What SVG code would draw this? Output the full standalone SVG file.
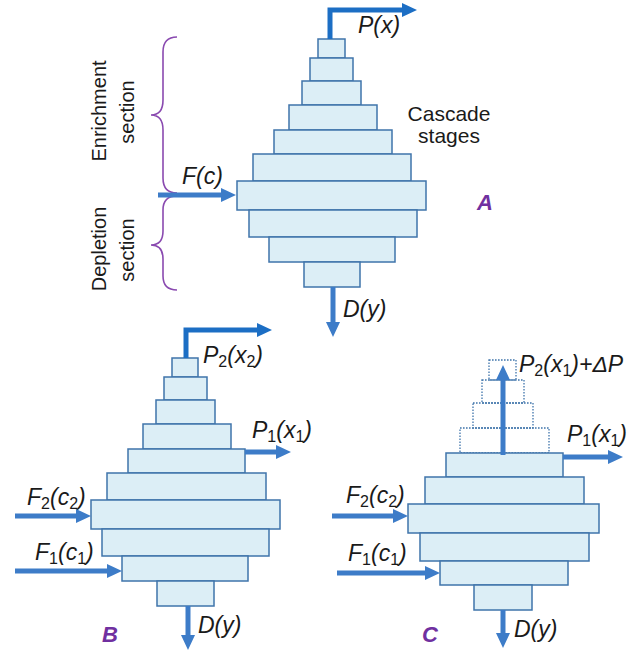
<svg xmlns="http://www.w3.org/2000/svg" width="633" height="655" viewBox="0 0 633 655">
<style>
.st{fill:#dceef6;stroke:#3f74ab;stroke-width:1.5}
.dt{fill:none;stroke:#3f74ab;stroke-width:1.3;stroke-dasharray:1.6 1.4}
.ar{fill:none;stroke:#3d7cc8;stroke-width:5;stroke-linejoin:miter}
.ard{fill:none;stroke:#1c6ec4;stroke-width:5;stroke-linejoin:miter}
.br{fill:none;stroke:#8a4ab0;stroke-width:1.6}
.lb{font-family:"Liberation Sans",Arial,sans-serif;font-size:23px;font-style:italic;fill:#1a1a1a}
.sb{font-size:16px;font-style:normal}
.tx{font-family:"Liberation Sans",Arial,sans-serif;font-size:21px;fill:#1a1a1a}
.vt{font-family:"Liberation Sans",Arial,sans-serif;font-size:20px;fill:#1a1a1a;text-anchor:middle}
.let{font-family:"Liberation Sans",Arial,sans-serif;font-size:22px;font-style:italic;font-weight:bold;fill:#7030a0}
</style>
<defs>
<marker id="ah" viewBox="0 0 15 14" refX="5" refY="7" markerWidth="15" markerHeight="14" markerUnits="userSpaceOnUse" orient="auto"><path d="M0,0 L15,7 L0,14 z" fill="#3d7cc8"/></marker>
<marker id="ahd" viewBox="0 0 15 14" refX="5" refY="7" markerWidth="15" markerHeight="14" markerUnits="userSpaceOnUse" orient="auto"><path d="M0,0 L15,7 L0,14 z" fill="#1c6ec4"/></marker>
</defs>

<g id="cascadeA">
<rect class="st" x="318" y="39" width="27" height="19"/>
<rect class="st" x="310" y="58" width="43" height="23"/>
<rect class="st" x="302" y="81" width="59" height="24"/>
<rect class="st" x="289" y="105" width="88" height="25"/>
<rect class="st" x="274" y="130" width="118" height="24"/>
<rect class="st" x="253" y="154" width="158" height="27"/>
<rect class="st" x="237" y="181" width="189" height="29"/>
<rect class="st" x="249" y="210" width="168" height="27"/>
<rect class="st" x="269" y="237" width="126" height="25"/>
<rect class="st" x="304" y="262" width="56" height="25"/>
</g>
<g id="bracesA">
<path class="br" d="M177,37 Q163,37 163,52 L163,100 Q163,115 151,115 Q163,115 163,130 L163,178 Q163,193 177,193"/>
<path class="br" d="M177,196 Q163,196 163,210 L163,231 Q163,245 151,245 Q163,245 163,259 L163,276 Q163,290 177,290"/>
</g>
<g id="labelsA">
<text class="lb" x="358" y="33">P(x)</text>
<text class="lb" x="182" y="184">F(c)</text>
<text class="lb" x="343" y="317">D(y)</text>
<text class="tx" x="449" y="121" text-anchor="middle">Cascade</text>
<text class="tx" x="449" y="143" text-anchor="middle">stages</text>
<text class="let" x="477" y="210">A</text>
<text class="vt" transform="translate(106,111) rotate(-90)">Enrichment</text>
<text class="vt" transform="translate(134,112) rotate(-90)">section</text>
<text class="vt" transform="translate(106,249) rotate(-90)">Depletion</text>
<text class="vt" transform="translate(134,250) rotate(-90)">section</text>
</g>

<g id="cascadeB">
<rect class="st" x="172" y="358" width="26" height="19"/>
<rect class="st" x="164" y="377" width="43" height="23"/>
<rect class="st" x="156" y="400" width="59" height="24"/>
<rect class="st" x="143" y="424" width="88" height="25"/>
<rect class="st" x="128" y="449" width="117" height="24"/>
<rect class="st" x="107" y="473" width="159" height="27"/>
<rect class="st" x="91" y="500" width="189" height="29"/>
<rect class="st" x="102" y="529" width="167" height="27"/>
<rect class="st" x="122" y="556" width="126" height="25"/>
<rect class="st" x="157" y="581" width="57" height="25"/>
</g>
<g id="labelsB">
<text class="lb" x="203" y="363">P<tspan class="sb" dy="4">2</tspan><tspan dy="-4">(x</tspan><tspan class="sb" dy="4">2</tspan><tspan dy="-4">)</tspan></text>
<text class="lb" x="252" y="438">P<tspan class="sb" dy="4">1</tspan><tspan dy="-4">(x</tspan><tspan class="sb" dy="4">1</tspan><tspan dy="-4">)</tspan></text>
<text class="lb" x="27" y="505">F<tspan class="sb" dy="4">2</tspan><tspan dy="-4">(c</tspan><tspan class="sb" dy="4">2</tspan><tspan dy="-4">)</tspan></text>
<text class="lb" x="35" y="560">F<tspan class="sb" dy="4">1</tspan><tspan dy="-4">(c</tspan><tspan class="sb" dy="4">1</tspan><tspan dy="-4">)</tspan></text>
<text class="lb" x="198" y="633">D(y)</text>
<text class="let" x="102" y="642">B</text>
</g>

<g id="cascadeC">
<rect class="dt" x="489" y="360" width="27" height="20"/>
<rect class="dt" x="482" y="380" width="42" height="23"/>
<rect class="dt" x="473" y="403" width="60" height="25"/>
<rect class="dt" x="460" y="428" width="89" height="25"/>
<rect class="st" x="446" y="453" width="117" height="24"/>
<rect class="st" x="425" y="477" width="159" height="27"/>
<rect class="st" x="408" y="504" width="191" height="29"/>
<rect class="st" x="420" y="533" width="169" height="28"/>
<rect class="st" x="440" y="561" width="128" height="24"/>
<rect class="st" x="474" y="585" width="58" height="25"/>
</g>
<g id="labelsC">
<text class="lb" x="519" y="372">P<tspan class="sb" dy="4">2</tspan><tspan dy="-4">(x</tspan><tspan class="sb" dy="4">1</tspan><tspan dy="-4">)+ΔP</tspan></text>
<text class="lb" x="567" y="442">P<tspan class="sb" dy="4">1</tspan><tspan dy="-4">(x</tspan><tspan class="sb" dy="4">1</tspan><tspan dy="-4">)</tspan></text>
<text class="lb" x="346" y="503">F<tspan class="sb" dy="4">2</tspan><tspan dy="-4">(c</tspan><tspan class="sb" dy="4">2</tspan><tspan dy="-4">)</tspan></text>
<text class="lb" x="348" y="561">F<tspan class="sb" dy="4">1</tspan><tspan dy="-4">(c</tspan><tspan class="sb" dy="4">1</tspan><tspan dy="-4">)</tspan></text>
<text class="lb" x="514" y="637">D(y)</text>
<text class="let" x="422" y="642">C</text>
</g>

<g id="connectors">
<path class="ard" d="M330,39 V10 H407" marker-end="url(#ahd)"/>
<path class="ar" d="M158,195 H226" marker-end="url(#ah)"/>
<path class="ar" d="M333,287 V327" marker-end="url(#ah)"/>
<path class="ard" d="M186,358 V330 H262" marker-end="url(#ahd)"/>
<path class="ar" d="M245,452 H281" marker-end="url(#ah)"/>
<path class="ar" d="M15,516 H81" marker-end="url(#ah)"/>
<path class="ar" d="M15,571 H112" marker-end="url(#ah)"/>
<path class="ar" d="M188,606 V640" marker-end="url(#ah)"/>
<path class="ar" d="M503,455 V375" marker-end="url(#ah)"/>
<path class="ar" d="M563,457 H613" marker-end="url(#ah)"/>
<path class="ar" d="M332,516 H398" marker-end="url(#ah)"/>
<path class="ar" d="M337,573 H430" marker-end="url(#ah)"/>
<path class="ar" d="M503,610 V638" marker-end="url(#ah)"/>
</g>
</svg>
